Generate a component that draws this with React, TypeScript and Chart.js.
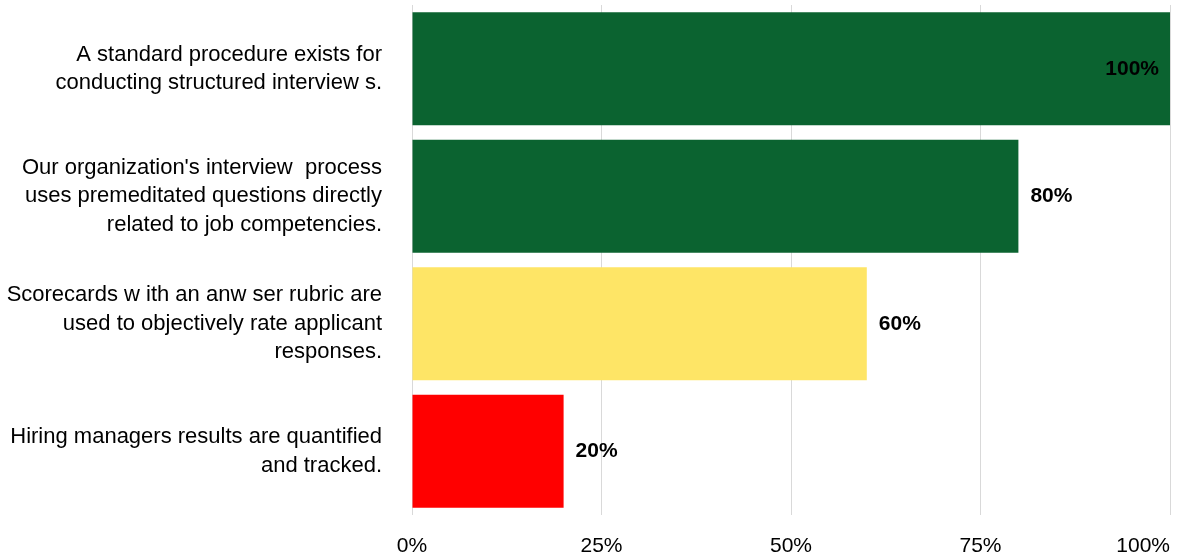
import React, { useEffect, useRef } from "react";
import { Chart, registerables } from "chart.js";

Chart.register(...registerables);

const categories: string[][] = [
  ["A standard procedure exists for", "conducting structured interview s."],
  ["Our organization's interview  process", "uses premeditated questions directly", "related to job competencies."],
  ["Scorecards w ith an anw ser rubric are", "used to objectively rate applicant", "responses."],
  ["Hiring managers results are quantified", "and tracked."],
];
const values: number[] = [100, 80, 60, 20];
const barColors: string[] = ["#0b6330", "#0b6330", "#fee566", "#ff0000"];
const tickValues: number[] = [0, 25, 50, 75, 100];

const FONT = "'Liberation Sans', Arial, sans-serif";

const valueLabels = {
  id: "valueLabels",
  afterDatasetsDraw(chart: any) {
    const ctx = chart.ctx;
    const meta = chart.getDatasetMeta(0);
    ctx.save();
    ctx.font = "bold 21px " + FONT;
    ctx.fillStyle = "#000000";
    ctx.textBaseline = "middle";
    meta.data.forEach((bar: any, i: number) => {
      const v = values[i];
      const text = v + "%";
      if (v >= 100) {
        ctx.textAlign = "right";
        ctx.fillText(text, bar.x - 11, bar.y);
      } else {
        ctx.textAlign = "left";
        ctx.fillText(text, bar.x + 12, bar.y);
      }
    });
    ctx.restore();
  },
};

const xTickLabels = {
  id: "xTickLabels",
  afterDraw(chart: any) {
    const ctx = chart.ctx;
    const scale = chart.scales.x;
    ctx.save();
    ctx.font = "21px " + FONT;
    ctx.fillStyle = "#000000";
    ctx.textBaseline = "middle";
    ctx.textAlign = "center";
    const limit = chart.width - 9;
    tickValues.forEach((v) => {
      const text = v + "%";
      const x = scale.getPixelForValue(v);
      const w = ctx.measureText(text).width;
      const cx = Math.min(x, limit - w / 2);
      ctx.fillText(text, cx, 546);
    });
    ctx.restore();
  },
};

export default function App() {
  const ref = useRef<HTMLCanvasElement>(null);
  useEffect(() => {
    if (!ref.current) return;
    const chart = new Chart(ref.current, {
      type: "bar",
      data: {
        labels: categories,
        datasets: [
          {
            data: values,
            backgroundColor: barColors,
            borderWidth: 0,
            categoryPercentage: 1,
            barPercentage: 0.888,
          },
        ],
      },
      options: {
        indexAxis: "y",
        animation: false,
        responsive: false,
        maintainAspectRatio: false,
        layout: { padding: { top: 5, right: 9, bottom: 0, left: 0 } },
        plugins: { legend: { display: false }, tooltip: { enabled: false } },
        scales: {
          x: {
            min: 0,
            max: 100,
            afterBuildTicks(axis: any) {
              axis.ticks = tickValues.map((v) => ({ value: v }));
            },
            afterFit(axis: any) {
              axis.height = 43;
              axis.paddingLeft = 0;
              axis.paddingRight = 0;
            },
            grid: { color: "#d9d9d9", lineWidth: 1, drawTicks: false },
            border: { display: false },
            ticks: { display: false },
          },
          y: {
            grid: { display: false, drawTicks: false },
            border: { display: false },
            afterFit(axis: any) {
              axis.width = 412;
              axis.paddingTop = 0;
              axis.paddingBottom = 0;
            },
            ticks: {
              padding: 30,
              color: "#000000",
              font: { family: FONT, size: 22, lineHeight: 1.3 },
            },
          },
        },
      },
      plugins: [valueLabels, xTickLabels],
    });
    return () => chart.destroy();
  }, []);
  return (
    <div style={{ position: "absolute", left: 0, top: 0, width: 1179, height: 558, background: "#fff" }}>
      <canvas ref={ref} width={1179} height={558} style={{ display: "block", width: 1179, height: 558 }} />
    </div>
  );
}
